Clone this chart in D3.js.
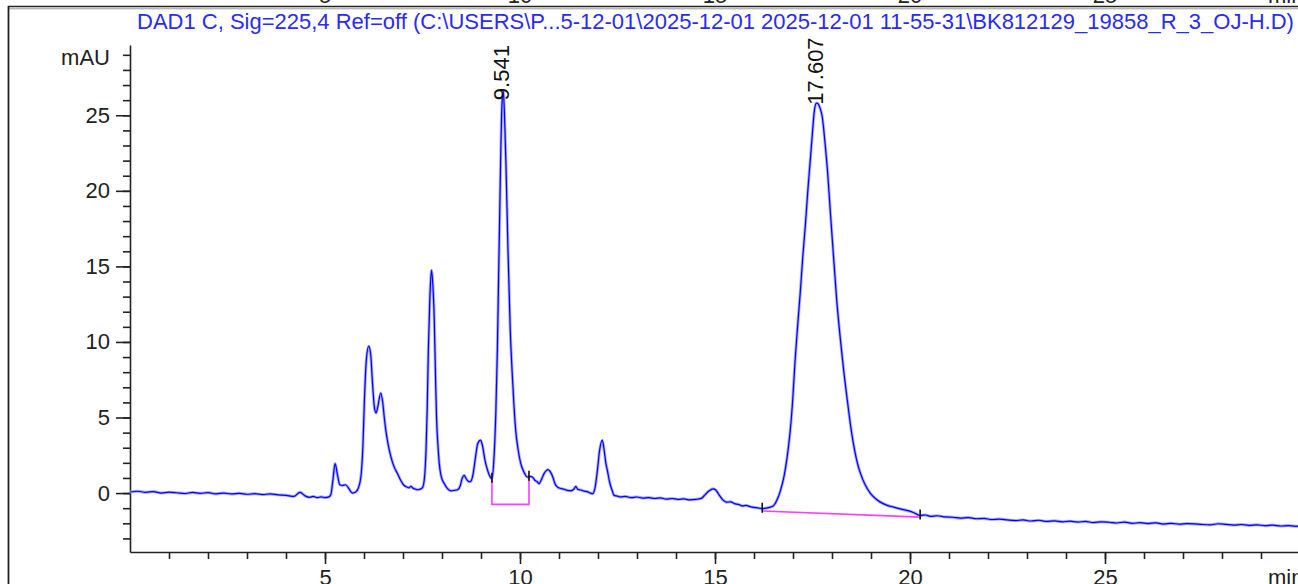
<!DOCTYPE html>
<html><head><meta charset="utf-8">
<script src="https://cdn.jsdelivr.net/npm/d3@7"></script>
<style>html,body{margin:0;padding:0;background:#fff;overflow:hidden}</style>
</head><body>
<svg id="c" width="1298" height="584"></svg>
<script>
const titleText = "DAD1 C, Sig=225,4 Ref=off (C:\\USERS\\P...5-12-01\\2025-12-01 2025-12-01 11-55-31\\BK812129_19858_R_3_OJ-H.D)";
const xUnit = "min";
const yUnit = "mAU";
const xMajorTicks = [5, 10, 15, 20, 25];
const yMajorTicks = [0, 5, 10, 15, 20, 25];
const xMinorTicks = d3.range(1, 30);
const yMinorTicks = d3.range(-3, 30);

// chromatogram: [time (min), absorbance (mAU)]
const trace = [
[0.0,0.07],[0.2,0.12],[0.4,0.05],[0.6,0.1],[0.8,0.0],[1.0,0.06],[1.2,0.02],[1.4,-0.03],[1.6,0.04],[1.8,-0.02],
[2.0,0.03],[2.2,-0.05],[2.4,0.0],[2.6,-0.06],[2.8,-0.02],[3.0,-0.08],[3.2,-0.04],[3.4,-0.1],[3.6,-0.06],[3.8,-0.12],
[4.0,-0.15],[4.2,-0.22],[4.36,0.05],[4.5,-0.2],[4.6,-0.28],[4.7,-0.22],[4.8,-0.3],[4.9,-0.25],[5.0,-0.3],[5.1,-0.25],
[5.15,-0.1],[5.2,0.8],[5.26,1.95],[5.32,1.2],[5.38,0.55],[5.45,0.5],[5.52,0.55],[5.6,0.35],[5.66,0.1],[5.71,0.0],
[5.78,0.05],[5.85,0.3],[5.92,1.06],[5.97,3.0],[6.01,6.1],[6.06,8.8],[6.12,9.72],[6.17,9.2],[6.22,7.2],[6.27,5.6],
[6.31,5.3],[6.36,5.8],[6.43,6.62],[6.48,6.0],[6.52,5.0],[6.56,4.15],[6.62,3.2],[6.69,2.4],[6.77,1.75],[6.86,1.28],
[6.94,0.85],[7.03,0.5],[7.1,0.4],[7.16,0.35],[7.2,0.45],[7.26,0.32],[7.33,0.25],[7.37,0.22],[7.43,0.25],[7.5,0.36],
[7.55,1.0],[7.59,2.8],[7.62,5.5],[7.65,9.45],[7.69,13.0],[7.73,14.75],[7.76,14.0],[7.8,11.65],[7.83,8.2],[7.86,5.0],
[7.9,3.0],[7.93,1.95],[7.98,1.1],[8.06,0.62],[8.14,0.3],[8.23,0.15],[8.32,0.18],[8.4,0.22],[8.47,0.5],[8.52,1.0],
[8.57,1.17],[8.61,1.0],[8.65,0.84],[8.7,0.75],[8.74,0.78],[8.8,1.3],[8.86,2.4],[8.92,3.3],[8.99,3.5],[9.04,3.1],
[9.1,2.2],[9.17,1.5],[9.22,1.15],[9.28,0.95],[9.33,2.2],[9.38,5.3],[9.42,9.5],[9.45,14.1],[9.48,18.5],[9.51,22.9],
[9.54,25.8],[9.57,26.6],[9.6,25.2],[9.64,21.8],[9.69,16.3],[9.75,10.8],[9.81,7.46],[9.85,5.6],[9.89,4.15],[9.95,2.9],
[10.02,1.95],[10.1,1.4],[10.19,1.06],[10.25,1.1],[10.32,1.06],[10.38,0.85],[10.44,0.75],[10.49,0.62],[10.55,0.9],[10.62,1.3],
[10.68,1.5],[10.72,1.55],[10.78,1.4],[10.85,1.0],[10.9,0.6],[10.96,0.4],[11.05,0.3],[11.13,0.25],[11.21,0.18],[11.3,0.15],
[11.38,0.25],[11.43,0.44],[11.48,0.25],[11.56,0.2],[11.64,0.13],[11.72,0.1],[11.8,0.0],[11.86,-0.04],[11.92,0.3],[11.98,1.4],
[12.04,2.8],[12.11,3.5],[12.16,2.8],[12.2,2.0],[12.24,1.5],[12.3,0.7],[12.36,0.2],[12.41,-0.15],[12.5,-0.2],[12.58,-0.26],
[12.7,-0.22],[12.85,-0.3],[13.0,-0.26],[13.15,-0.33],[13.3,-0.3],[13.45,-0.36],[13.6,-0.32],[13.75,-0.4],[13.9,-0.36],[14.05,-0.42],
[14.2,-0.38],[14.35,-0.45],[14.5,-0.42],[14.65,-0.35],[14.75,-0.1],[14.85,0.15],[14.95,0.28],[15.02,0.2],[15.1,-0.1],[15.2,-0.45],
[15.3,-0.6],[15.4,-0.58],[15.5,-0.7],[15.6,-0.75],[15.7,-0.85],[15.8,-0.82],[15.9,-0.9],[16.0,-0.95],[16.1,-0.98],[16.21,-1.03],
[16.3,-1.0],[16.4,-0.95],[16.51,-0.81],[16.6,-0.4],[16.68,0.18],[16.77,1.1],[16.85,2.38],[16.92,3.9],[16.98,5.7],[17.06,9.0],
[17.12,11.1],[17.19,13.4],[17.25,15.6],[17.32,17.84],[17.38,20.0],[17.45,22.25],[17.5,23.9],[17.55,25.34],[17.6,25.8],[17.63,25.79],
[17.69,25.5],[17.75,24.9],[17.82,23.2],[17.89,21.15],[17.96,18.5],[18.04,15.63],[18.12,12.8],[18.21,10.3],[18.3,8.1],[18.39,6.2],
[18.47,4.6],[18.55,3.25],[18.64,2.1],[18.73,1.3],[18.85,0.55],[18.98,0.0],[19.1,-0.33],[19.24,-0.6],[19.4,-0.8],[19.58,-0.93],
[19.75,-1.05],[19.92,-1.15],[20.1,-1.3],[20.26,-1.48],[20.4,-1.45],[20.52,-1.54],[20.7,-1.5],[20.9,-1.58],[21.1,-1.6],[21.3,-1.66],
[21.5,-1.62],[21.7,-1.7],[21.9,-1.68],[22.1,-1.75],[22.3,-1.72],[22.5,-1.78],[22.7,-1.82],[22.9,-1.78],[23.1,-1.85],[23.3,-1.8],
[23.5,-1.88],[23.7,-1.84],[23.9,-1.9],[24.1,-1.86],[24.3,-1.92],[24.5,-1.88],[24.7,-1.95],[24.9,-1.9],[25.1,-1.93],[25.3,-1.98],
[25.5,-1.92],[25.7,-2.0],[25.9,-1.96],[26.1,-2.02],[26.3,-1.97],[26.5,-2.05],[26.7,-2.0],[26.9,-2.06],[27.1,-2.02],[27.3,-2.04],
[27.5,-2.08],[27.7,-2.1],[27.9,-2.03],[28.1,-2.07],[28.3,-2.12],[28.5,-2.08],[28.7,-2.14],[28.9,-2.1],[29.1,-2.16],[29.3,-2.12],
[29.5,-2.18],[29.7,-2.15],[29.9,-2.2],[30.0,-2.18]
];

const peakTimes = [9.541, 17.607];
const peakLabels = ["9.541", "17.607"];
const peakLabelBase = [26.0, 25.7];

const integStart = [9.28, 16.21];
const integEnd = [10.23, 20.26];
const integBaseStart = [-0.75, -1.19];
const integBaseEnd = [-0.75, -1.59];
const integDrop = [true, false];

const FONT = "'Liberation Sans', Arial, sans-serif";
const svg = d3.select("#c");
const x = d3.scaleLinear().domain([0, 30]).range([130, 1300]);
const y = d3.scaleLinear().domain([-3.9, 29.65]).range([552, 45]);
const valueAt = t => {
  const i = d3.bisector(d => d[0]).left(trace, t);
  if (i <= 0) return trace[0][1];
  if (i >= trace.length) return trace[trace.length-1][1];
  const a = trace[i-1], b = trace[i];
  return a[1] + (b[1]-a[1]) * (t-a[0])/(b[0]-a[0]);
};

// title, fitted to width
const title = svg.append("text").attr("x", 137).attr("y", 29)
  .attr("font-family", FONT).attr("font-size", 18).attr("fill", "#2a2af5").text(titleText);
const tl = title.node().getComputedTextLength();
const FS = 18 * 1157 / tl;
title.attr("font-size", FS);

// cut-off labels of the previous panel at the very top
svg.append("g").selectAll("text").data(xMajorTicks).join("text")
  .attr("x", d => x(d)).attr("y", 2.5).attr("text-anchor", "middle")
  .attr("font-family", FONT).attr("font-size", FS).attr("fill", "#222").text(d => d);
svg.append("text").attr("x", 1268).attr("y", 2.5).attr("font-family", FONT).attr("font-size", FS).attr("fill", "#222").text(xUnit);

// frame lines
svg.append("line").attr("x1", 8).attr("x2", 1298).attr("y1", 6.5).attr("y2", 6.5).attr("stroke", "#222").attr("stroke-width", 1.6);
svg.append("line").attr("x1", 8).attr("x2", 1298).attr("y1", 8.8).attr("y2", 8.8).attr("stroke", "#999").attr("stroke-width", 1);
svg.append("line").attr("x1", 8.5).attr("x2", 8.5).attr("y1", 6).attr("y2", 584).attr("stroke", "#222").attr("stroke-width", 1.8);

// y axis
const yMinor = svg.append("g").attr("transform", "translate(130,0)")
  .call(d3.axisLeft(y).tickValues(yMinorTicks).tickSize(7).tickSizeOuter(0).tickFormat(""));
const yMajor = svg.append("g").attr("transform", "translate(130,0)")
  .call(d3.axisLeft(y).tickValues(yMajorTicks).tickSize(14).tickSizeOuter(0).tickPadding(6));
yMajor.select(".domain").remove();
// x axis
const xMinor = svg.append("g").attr("transform", "translate(0,552)")
  .call(d3.axisBottom(x).tickValues(xMinorTicks).tickSize(7).tickSizeOuter(0).tickFormat(""));
const xMajor = svg.append("g").attr("transform", "translate(0,552)")
  .call(d3.axisBottom(x).tickValues(xMajorTicks).tickSize(12).tickSizeOuter(0));
xMajor.select(".domain").remove();
svg.selectAll(".domain, .tick line").attr("stroke", "#222").attr("stroke-width", 1.6);
svg.selectAll(".tick text").attr("font-family", FONT).attr("font-size", FS).attr("fill", "#222");
xMajor.selectAll(".tick text").attr("y", 33).attr("dy", 0);

svg.append("text").attr("x", 1268).attr("y", 585).attr("font-family", FONT).attr("font-size", FS).attr("fill", "#222").text(xUnit);
svg.append("text").attr("x", 110).attr("y", 65).attr("text-anchor", "end").attr("font-family", FONT).attr("font-size", FS).attr("fill", "#222").text(yUnit);

// integration baselines
integStart.forEach((s, i) => {
  const e = integEnd[i];
  const pts = integDrop[i]
    ? [[s, valueAt(s)], [s, integBaseStart[i]], [e, integBaseEnd[i]], [e, valueAt(e)]]
    : [[s, integBaseStart[i]], [e, integBaseEnd[i]]];
  svg.append("path").attr("d", d3.line().x(d => x(d[0])).y(d => y(d[1]))(pts))
    .attr("fill", "none").attr("stroke", "#ff3cff").attr("stroke-width", 1.6);
});

// trace
svg.append("path").datum(trace)
  .attr("d", d3.line().x(d => x(d[0])).y(d => y(d[1])).curve(d3.curveMonotoneX))
  .attr("fill", "none").attr("stroke", "#a9a9ff").attr("stroke-width", 3).attr("stroke-linejoin", "round");
svg.append("path").datum(trace)
  .attr("d", d3.line().x(d => x(d[0])).y(d => y(d[1])).curve(d3.curveMonotoneX))
  .attr("fill", "none").attr("stroke", "#0000ff").attr("stroke-width", 1.2).attr("stroke-linejoin", "round");

// integration start/end tick marks
[...integStart, ...integEnd].forEach(t => {
  const v = valueAt(t);
  svg.append("line").attr("x1", x(t)).attr("x2", x(t)).attr("y1", y(v) - 6).attr("y2", y(v) + 4)
    .attr("stroke", "#111").attr("stroke-width", 1.6);
});

// peak labels
peakTimes.forEach((t, i) => {
  svg.append("text")
    .attr("transform", `translate(${x(t) + 6.5},${y(peakLabelBase[i])}) rotate(-90)`)
    .attr("font-family", FONT).attr("font-size", FS).attr("fill", "#111").text(peakLabels[i]);
});
</script>
</body></html>
